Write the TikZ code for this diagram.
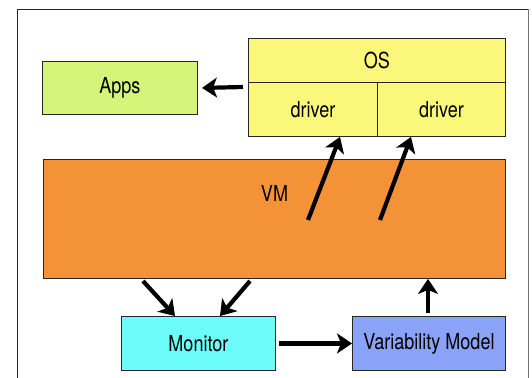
\documentclass[tikz,border=0pt]{standalone}
\usepackage{fontspec}
\setmainfont{TeX Gyre Heros}[FakeStretch=0.82]
\usetikzlibrary{arrows.meta}
\definecolor{appsg}{RGB}{212,245,122}
\definecolor{osy}{RGB}{250,247,122}
\definecolor{vmo}{RGB}{243,146,55}
\definecolor{monc}{RGB}{108,252,249}
\definecolor{varb}{RGB}{138,163,249}
\tikzset{
  lbl/.style={font=\fontsize{22}{26}\selectfont},
  box/.style={draw=black!85, line width=0.9pt, inner sep=0pt, lbl},
  bigarrow/.style={line width=4.2pt, -{Stealth[length=15pt, width=20pt, inset=4pt]}},
}
\begin{document}
\begin{tikzpicture}[x=1pt, y=-1pt]
\useasboundingbox (0,0) rectangle (532,377);
% frame
\coordinate (fbl) at (17.5,380);
\coordinate (ftl) at (17.5,9.5);
\coordinate (ftr) at (528.5,9.5);
\coordinate (fbr) at (528.5,380);
\draw[black!85, line width=0.9pt] (fbl) -- (ftl) -- (ftr);
\draw[black!55, line width=1pt] (ftr) -- (fbr);
% boxes
\node[box, fill=appsg, minimum width=155pt, minimum height=53pt, anchor=north west] (apps) at (42,61) {Apps};
\node[box, fill=osy, minimum width=257pt, minimum height=44pt, anchor=north west] (os) at (248,38) {OS};
\node[box, fill=osy, minimum width=129pt, minimum height=54pt, anchor=north west] (d1) at (248,82) {driver};
\node[box, fill=osy, minimum width=128pt, minimum height=54pt, anchor=north west] (d2) at (377,82) {driver};
\node[box, fill=vmo, minimum width=462pt, minimum height=119pt, anchor=north west] (vm) at (43,159) {};
\node[lbl, inner sep=0pt] (vmlabel) at (274.5,193) {VM};
\node[box, fill=monc, minimum width=154pt, minimum height=54pt, anchor=north west] (mon) at (121,316) {Monitor};
\node[box, fill=varb, minimum width=153pt, minimum height=54pt, anchor=north west] (var) at (352,316) {Variability Model};
% arrows
\coordinate (oa) at (243,87);
\draw[bigarrow] (oa) -- (apps.east -| 202,0);
\coordinate (s1) at (308,220);
\coordinate (s2) at (380,220);
\draw[bigarrow] (s1) -- (d1.south -| 340,0);
\draw[bigarrow] (s2) -- (d2.south -| 411,0);
\coordinate (m1) at (143,281);
\coordinate (m2) at (250,281);
\draw[bigarrow] (m1) -- (mon.north -| 175,0);
\draw[bigarrow] (m2) -- (mon.north -| 220,0);
\draw[bigarrow] (mon.east) ++(3,0) -- (var.west);
\draw[bigarrow] (var.north -| 428,0) ++(0,-3) -- (vm.south -| 428,0);
\end{tikzpicture}
\end{document}
